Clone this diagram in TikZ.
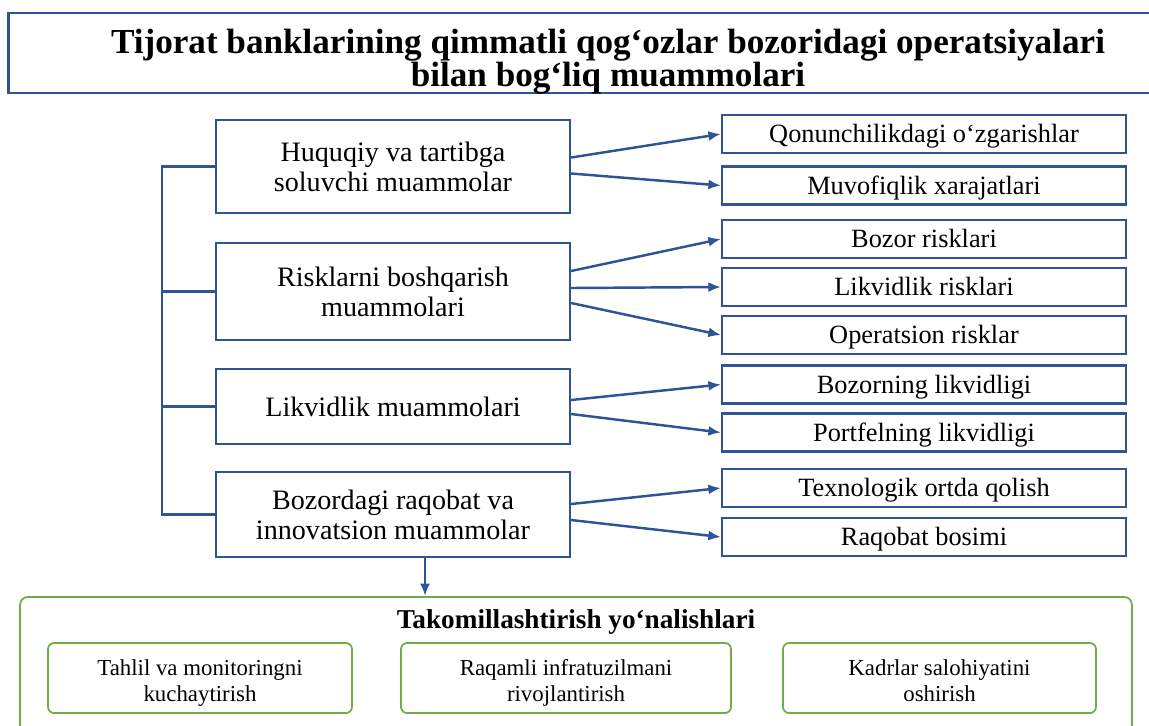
\documentclass[tikz,border=0pt]{standalone}
\usepackage{fontspec}
\setmainfont{Liberation Serif}
\usetikzlibrary{arrows.meta}
\definecolor{probblue}{RGB}{47,84,150}
\definecolor{impgreen}{RGB}{112,173,71}
\newcommand\titlefont{\bfseries\fontsize{20}{18.6}\selectfont\lineskiplimit=-5pt\relax}

\begin{document}
\begin{tikzpicture}[x=0.02cm,y=-0.02cm,
		probbox/.style={draw=probblue,line width=1.3pt,minimum width=7.08cm,align=center,inner sep=0pt,font=\fontsize{16}{17}\selectfont},
		itembox/.style={draw=probblue,line width=1.3pt,minimum width=8.08cm,minimum height=0.76cm,inner sep=0pt,text height=13pt,text depth=3pt,font=\fontsize{15}{16}\selectfont},
		impbox/.style={draw=impgreen,line width=1pt,rounded corners=0.12cm,minimum height=1.4cm,align=center,inner sep=0pt,font=\fontsize{13}{14.5}\selectfont},
		link/.style={draw=probblue,line width=1.4pt},
		arr/.style={link,-{Latex[length=0.25cm,width=0.2cm]}}]
	\clip (0,0) rectangle (1149,725);
	\fill[white] (0,0) rectangle (1149,725);
	\node[draw=probblue,line width=1.6pt,minimum width=23.04cm,minimum height=1.6cm] (titlebox) at (584,53) {};
	\node[align=center,font=\titlefont] (title) at (608,62) {Tijorat banklarining qimmatli qog‘ozlar bozoridagi operatsiyalari\\bilan bog‘liq muammolari};
		\node[probbox,minimum height=1.86cm] (hq) at (393,166.5) {Huquqiy va tartibga\\soluvchi muammolar};
		\node[probbox,minimum height=1.94cm] (rb) at (393,291.5) {Risklarni boshqarish\\muammolari};
		\node[probbox,minimum height=1.5cm] (lq) at (393,406.5) {Likvidlik muammolari};
		\node[probbox,minimum height=1.7cm] (bz) at (393,514.5) {Bozordagi raqobat va\\innovatsion muammolar};
		\draw[link] (hq.west) -- ++(-53,0) |- (bz.west);
		\draw[link] (rb.west) -- ++(-53,0);
		\draw[link] (lq.west) -- ++(-53,0);
		\node[itembox] (qz) at (924,134) {Qonunchilikdagi o‘zgarishlar};
		\node[itembox] (mx) at (924,185.5) {Muvofiqlik xarajatlari};
		\node[itembox] (br) at (924,239) {Bozor risklari};
		\node[itembox] (lr) at (924,287) {Likvidlik risklari};
		\node[itembox] (or) at (924,335) {Operatsion risklar};
		\node[itembox] (bl) at (924,384.5) {Bozorning likvidligi};
		\node[itembox] (pl) at (924,432.5) {Portfelning likvidligi};
		\node[itembox] (tq) at (924,488) {Texnologik ortda qolish};
		\node[itembox] (rq) at (924,537) {Raqobat bosimi};
		\draw[arr] ([yshift=0.18cm]hq.east) -- (qz.west);
		\draw[arr] ([yshift=-0.14cm]hq.east) -- (mx.west);
		\draw[arr] ([yshift=0.41cm]rb.east) -- (br.west);
		\draw[arr] ([yshift=0.07cm]rb.east) -- (lr.west);
		\draw[arr] ([yshift=-0.23cm]rb.east) -- (or.west);
		\draw[arr] ([yshift=0.13cm]lq.east) -- (bl.west);
		\draw[arr] ([yshift=-0.15cm]lq.east) -- (pl.west);
		\draw[arr] ([yshift=0.21cm]bz.east) -- (tq.west);
		\draw[arr] ([yshift=-0.11cm]bz.east) -- (rq.west);
	\node[draw=impgreen,line width=1pt,rounded corners=0.16cm,minimum width=22.24cm,minimum height=3.2cm,anchor=north] (imp) at (576,596) {};
	\node[font=\bfseries\fontsize{15.5}{17}\selectfont] (imptitle) at (576,622) {Takomillashtirish yo‘nalishlari};
		\node[impbox,minimum width=6.08cm] (tm) at (200,678) {\rule{0pt}{16pt}Tahlil va monitoringni\\kuchaytirish\rule[-4pt]{0pt}{0pt}};
		\node[impbox,minimum width=6.6cm] (ri) at (566,678) {\rule{0pt}{16pt}Raqamli infratuzilmani\\rivojlantirish\rule[-4pt]{0pt}{0pt}};
		\node[impbox,minimum width=6.26cm] (ks) at (939.5,678) {\rule{0pt}{16pt}Kadrlar salohiyatini\\oshirish\rule[-4pt]{0pt}{0pt}};
	\coordinate (dn) at ([xshift=0.64cm]bz.south);
	\draw[arr] (dn) -- (dn |- imp.north);
\end{tikzpicture}
\end{document}
